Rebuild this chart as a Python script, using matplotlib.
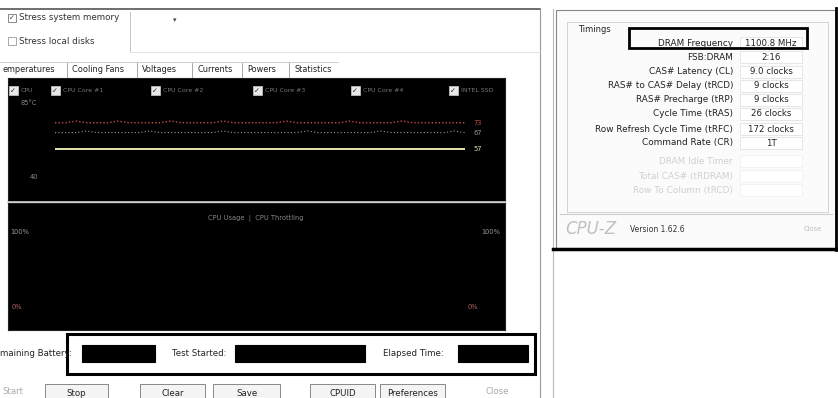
import numpy as np
import matplotlib.pyplot as plt
from matplotlib.patches import Rectangle

# --- data ---
tabs = ["emperatures", "Cooling Fans", "Voltages", "Currents", "Powers", "Statistics"]
tab_x = [0, 70, 140, 195, 245, 292]

legend_items = ["CPU", "CPU Core #1", "CPU Core #2", "CPU Core #3", "CPU Core #4", "INTEL SSD"]
legend_x = [13, 55, 155, 257, 355, 453]

# temperatures (°C) over the run
temp_cpu = [73, 73, 74, 73, 73, 73, 74, 73, 73, 73, 73, 74, 73, 73, 73, 73, 74, 73, 73, 73,
            73, 73, 74, 73, 73, 73, 73, 73, 74, 73, 73, 73, 73, 74, 73, 73, 73, 73, 73, 73]
temp_core2 = [67, 67, 67, 68, 67, 67, 67, 67, 67, 68, 67, 67, 67, 67, 67, 67, 68, 67, 67, 67,
              67, 67, 67, 67, 68, 67, 67, 67, 67, 67, 67, 68, 67, 67, 67, 67, 67, 67, 68, 67]
temp_core1 = [57, 57, 57, 57, 57, 57, 57, 57, 57, 57, 57, 57, 57, 57, 57, 57, 57, 57, 57, 57,
              57, 57, 57, 57, 57, 57, 57, 57, 57, 57, 57, 57, 57, 57, 57, 57, 57, 57, 57, 57]
temp_labels = ["73", "67", "57"]
temp_colors = ["#c84848", "#9a9a9a", "#e6e2b0"]
temp_ylim = (40, 85)

timing_names = ["DRAM Frequency", "FSB:DRAM", "CAS# Latency (CL)", "RAS# to CAS# Delay (tRCD)",
                "RAS# Precharge (tRP)", "Cycle Time (tRAS)", "Row Refresh Cycle Time (tRFC)",
                "Command Rate (CR)"]
timing_values = ["1100.8 MHz", "2:16", "9.0 clocks", "9 clocks", "9 clocks", "26 clocks",
                 "172 clocks", "1T"]
hidden_names = ["DRAM Idle Timer", "Total CAS# (tRDRAM)", "Row To Column (tRCD)"]

buttons = ["Stop", "Clear", "Save", "CPUID", "Preferences"]
button_x = [45, 140, 213, 310, 380]
button_w = [63, 65, 67, 65, 65]

W, H = 838, 398
fig = plt.figure(figsize=(W / 100, H / 100), dpi=100)
ax = fig.add_axes([0, 0, 1, 1])
ax.set_xlim(0, W)
ax.set_ylim(H, 0)
ax.axis('off')
ax.patch.set_visible(False)
ax.set_zorder(10)   # overlay on top of the graph panels


def box(x, y, w, h, fc="none", ec="#444", lw=0.8, z=1):
    ax.add_patch(Rectangle((x, y), w, h, facecolor=fc, edgecolor=ec, lw=lw, zorder=z))


def txt(x, y, s, size=6.2, color="#333", ha="left", **kw):
    ax.text(x, y, s, fontsize=size, color=color, ha=ha, va="center", **kw)


def inset(x, y, w, h):
    a = fig.add_axes([x / W, 1 - (y + h) / H, w / W, h / H])
    return a


# --- left window (AIDA64 stress test) ---
ax.plot([0, 540], [9, 9], color="#555", lw=1.2)
ax.plot([540, 540], [9, H], color="#999", lw=0.8)
ax.plot([553, 553], [9, H], color="#bbb", lw=0.8)
box(8, 14, 8, 8, fc="white", ec="#777", lw=0.6)
txt(9, 18, "\u2713", size=5, color="#333")
txt(19, 18, "Stress system memory", size=6.3)
box(8, 37, 8, 8, fc="white", ec="#999", lw=0.6)
txt(19, 41, "Stress local disks", size=6.3)
ax.plot([130, 130], [12, 52], color="#bbb", lw=0.6)
ax.plot([130, 540], [52, 52], color="#ddd", lw=0.6)
txt(173, 20, "\u25be", size=5, color="#444")

# tabs
for name, tx in zip(tabs, tab_x):
    txt(tx + 2, 70, name, size=5.9, color="#222")
    if tx > 0:
        ax.plot([tx - 3, tx - 3], [63, 77], color="#999", lw=0.6)
ax.plot([0, 338], [62, 62], color="#bbb", lw=0.5)

# temperature panel
ga = inset(8, 78, 497, 123)
ga.set_facecolor("black")
ga.set_xticks([])
ga.set_yticks([])
for s in ga.spines.values():
    s.set_color("#222")
for name, lx in zip(legend_items, legend_x):
    box(lx - 4, 86, 9, 9, fc="#e8e8e8", ec="#ccc", lw=0.5, z=3)
    txt(lx - 3, 90.5, "\u2713", size=5, color="#222", zorder=4)
    txt(lx + 8, 90.5, name, size=4.5, color="#777", zorder=4)
txt(20, 103, "85°C", size=4.8, color="#888", zorder=4)
txt(30, 177, "40", size=4.8, color="#888", zorder=4)

da = inset(55, 103, 410, 74)
da.patch.set_alpha(0)
da.axis('off')
xs = np.arange(len(temp_cpu))
da.plot(xs, temp_cpu, color=temp_colors[0], lw=1.0, ls=(0, (1, 1.5)))
da.plot(xs, temp_core2, color=temp_colors[1], lw=0.8, ls=(0, (1, 2)))
da.plot(xs, temp_core1, color=temp_colors[2], lw=1.4)
da.set_xlim(0, len(xs) - 1)
da.set_ylim(*temp_ylim)
for series, lab, col in zip([temp_cpu, temp_core2, temp_core1], temp_labels, temp_colors):
    da.annotate(lab, (xs[-1], series[-1]), xytext=(6, 0), textcoords="offset points",
                fontsize=4.8, color=col, va="center", annotation_clip=False)

# CPU usage panel
ca = inset(8, 203, 497, 127)
ca.set_facecolor("black")
ca.set_xticks([])
ca.set_yticks([])
for s in ca.spines.values():
    s.set_color("#222")
ax.plot([8, 505], [202, 202], color="#ccc", lw=1.2, zorder=5)
txt(256, 218, "CPU Usage  |  CPU Throttling", size=4.8, color="#888", ha="center", zorder=4)
txt(10, 232, "100%", size=4.8, color="#999", zorder=4)
txt(500, 232, "100%", size=4.8, color="#999", ha="right", zorder=4)
txt(12, 307, "0%", size=4.8, color="#a66", zorder=4)
txt(478, 307, "0%", size=4.8, color="#a66", ha="right", zorder=4)

# status row
box(67, 334, 468, 40, ec="black", lw=2.2, z=3)
txt(0, 353, "maining Battery:", size=6.2, color="#222")
box(82, 345, 73, 17, fc="black", ec="black", z=2)
txt(172, 353, "Test Started:", size=6.2, color="#222")
box(235, 345, 130, 17, fc="black", ec="black", z=2)
txt(383, 353, "Elapsed Time:", size=6.2, color="#222")
box(458, 345, 70, 17, fc="black", ec="black", z=2)

# buttons
txt(2, 392, "Start", size=6.2, color="#aaa")
for name, bx, bw in zip(buttons, button_x, button_w):
    box(bx, 384, bw, 20, fc="#f4f4f4", ec="#888", lw=0.7)
    txt(bx + bw / 2, 393, name, size=6.2, color="#222", ha="center")
txt(485, 392, "Close", size=6.2, color="#aaa")

# --- CPU-Z window ---
box(556, 10, 280, 239, fc="#fbfbfb", ec="#888", lw=0.8)
ax.plot([553, 838], [249, 249], color="black", lw=2.5)
ax.plot([836, 836], [8, 250], color="black", lw=2.0)
box(567, 22, 261, 190, ec="#ccc", lw=0.6)
txt(578, 30, "Timings", size=6, color="#222")
box(629, 28, 178, 20, ec="black", lw=2.0, z=3)
row_y = [43, 57, 72, 86, 100, 114, 129, 143]
for name, val, ry in zip(timing_names, timing_values, row_y):
    txt(733, ry, name, size=6.4, color="#222", ha="right")
    box(740, ry - 6, 62, 12, fc="white", ec="#ddd", lw=0.5)
    txt(771, ry, val, size=6.2, color="#222", ha="center")
for name, ry in zip(hidden_names, [161, 176, 190]):
    txt(733, ry, name, size=6.4, color="#d0d0d0", ha="right")
    box(740, ry - 6, 62, 12, fc="white", ec="#eee", lw=0.5)
ax.plot([560, 832], [214, 214], color="#ccc", lw=0.8)
txt(565, 229, "CPU-Z", size=12, color="#c0c0c0", style="italic")
txt(630, 229, "Version 1.62.6", size=5.5, color="#333")
txt(822, 229, "Close", size=4.8, color="#bbb", ha="right")

fig.savefig("out.png", dpi=100)
